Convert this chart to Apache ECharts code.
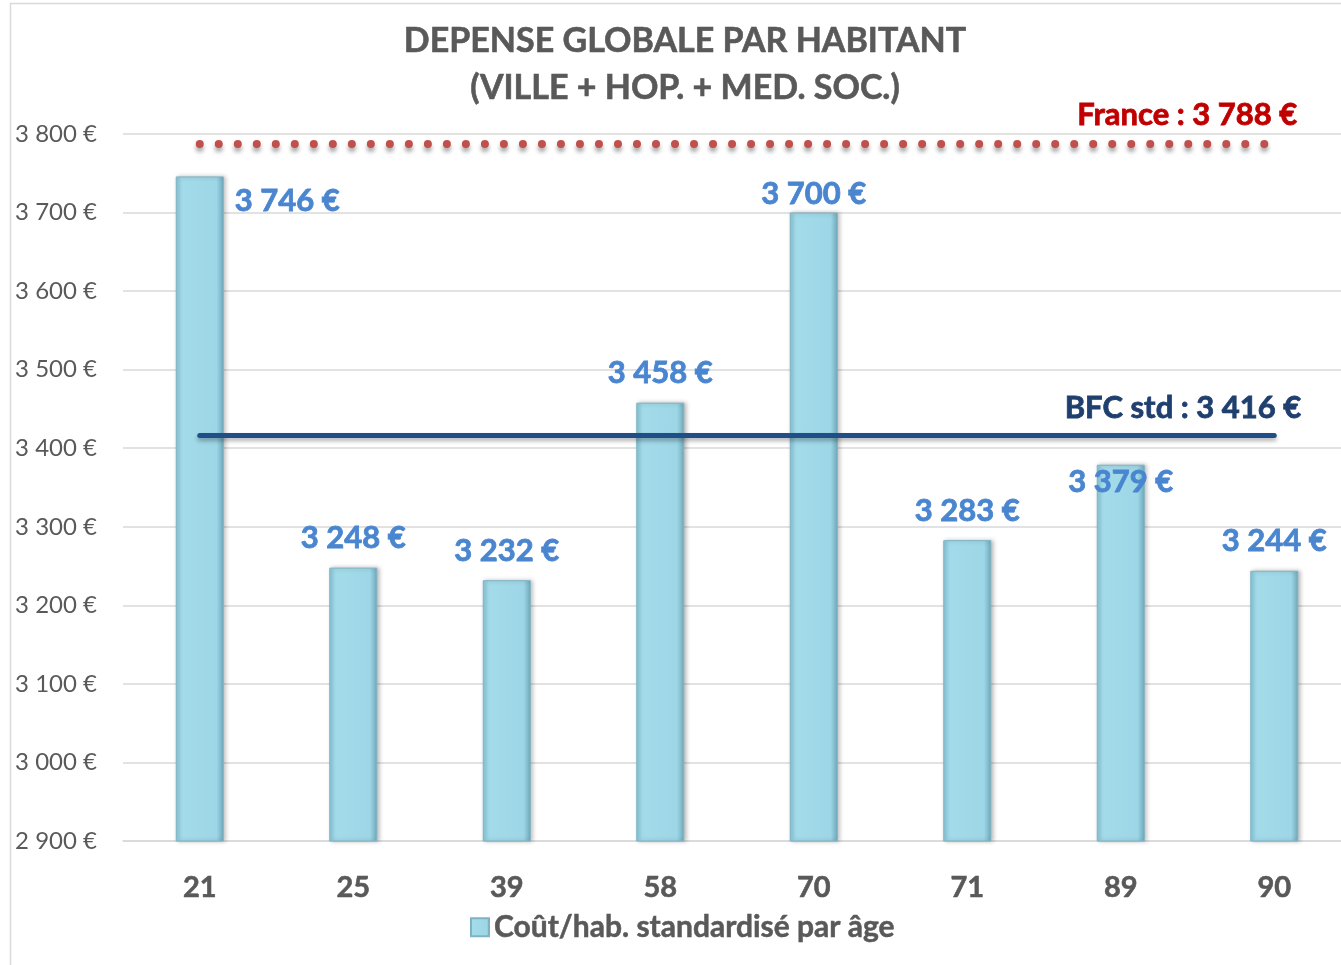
<!DOCTYPE html>
<html>
<head>
<meta charset="utf-8">
<title>Dépense globale par habitant</title>
<script src="https://cdn.jsdelivr.net/npm/echarts@6/dist/echarts.min.js"></script>
<style>
  html, body { margin: 0; padding: 0; background: #fff; overflow: hidden; }
  /* le tracé déborde à droite comme dans l'original */
  #chart { width: 1352px; height: 965px; }
</style>
</head>
<body>
<div id="chart"></div>
<script>
// données
const departements = ['21', '25', '39', '58', '70', '71', '89', '90'];
const coutParHab = [3746, 3248, 3232, 3458, 3700, 3283, 3379, 3244];
const franceRef = 3788;
const bfcRef = 3416;
const yTicks = { min: 2900, max: 3800, step: 100 };
const serieNom = 'Coût/hab. standardisé par âge';

const FONT = 'Lato, "Open Sans", sans-serif';

// format "3 800 €"
function euro(v) {
    const k = Math.floor(v / 1000);
    const r = String(Math.round(v % 1000)).padStart(3, '0');
    return (k > 0 ? k + ' ' + r : String(v)) + ' €';
}

// placement des étiquettes de valeur (décalages propres au visuel d'origine)
function labelFor(i) {
    if (i === 0) return { position: [59, 9] };
    if (i === 6) return { position: 'top', offset: [0, 38] };
    if (i === 4) return { position: 'top', offset: [0, 2] };
    return { position: 'top', offset: [0, -9] };
}

const barGradient = new echarts.graphic.LinearGradient(0, 0, 1, 0, [
    { offset: 0, color: '#86c6d8' },
    { offset: 0.12, color: '#a3dbea' },
    { offset: 0.85, color: '#9dd6e6' },
    { offset: 1, color: '#6ea9bb' }
]);

const chart = echarts.init(document.getElementById('chart'));

chart.setOption({
    animation: false,
    backgroundColor: '#fff',
    title: {
        text: 'DEPENSE GLOBALE PAR HABITANT\n(VILLE + HOP. + MED. SOC.)',
        left: 680,
        top: 13,
        textAlign: 'center',
        textStyle: {
            fontFamily: FONT, fontSize: 34, fontWeight: 'bold',
            color: '#595959', lineHeight: 47,
            textBorderColor: '#595959', textBorderWidth: 0.6
        }
    },
    legend: {
        data: [serieNom],
        left: 465,
        top: 907,
        icon: 'rect',
        itemWidth: 18,
        itemHeight: 18,
        itemGap: 8,
        textStyle: {
            fontFamily: FONT, fontSize: 30, fontWeight: 'bold', color: '#595959',
            textBorderColor: '#595959', textBorderWidth: 0.5
        }
    },
    grid: { left: 123, top: 134, width: 1228, bottom: 124, containLabel: false },
    xAxis: {
        type: 'category',
        data: departements,
        axisLine: { lineStyle: { color: '#d9d9d9', width: 1.5 } },
        axisTick: { show: false },
        axisLabel: {
            margin: 32, fontFamily: FONT, fontSize: 29, fontWeight: 'bold', color: '#595959',
            textBorderColor: '#595959', textBorderWidth: 0.6
        }
    },
    yAxis: {
        type: 'value',
        min: yTicks.min,
        max: yTicks.max,
        interval: yTicks.step,
        axisLine: { show: false },
        axisTick: { show: false },
        axisLabel: {
            margin: 26, formatter: euro,
            fontFamily: FONT, fontSize: 24, color: '#595959'
        },
        splitLine: { lineStyle: { color: '#d9d9d9', width: 1.5 } }
    },
    series: [{
        name: serieNom,
        type: 'bar',
        barWidth: 48,
        itemStyle: {
            color: barGradient,
            borderColor: '#7fb3c4',
            borderWidth: 1,
            shadowColor: 'rgba(0,0,0,0.25)',
            shadowBlur: 4,
            shadowOffsetX: 2
        },
        data: coutParHab.map((v, i) => ({
            value: v,
            label: Object.assign({
                show: true,
                formatter: p => euro(p.value),
                fontFamily: FONT, fontSize: 31, fontWeight: 'bold', color: '#4a86d0',
                textBorderColor: '#4a86d0', textBorderWidth: 0.8
            }, labelFor(i))
        })),
        markLine: {
            silent: true,
            symbol: 'none',
            data: [
                [
                    { coord: [departements[0], franceRef], lineStyle: {
                        color: '#c0504d', width: 8, type: [0.01, 19], cap: 'round',
                        shadowColor: 'rgba(0,0,0,0.35)', shadowBlur: 4, shadowOffsetY: 4 },
                      label: {
                        show: true, position: 'insideEndTop', distance: 13, offset: [36, 0],
                        formatter: 'France : ' + euro(franceRef),
                        fontFamily: FONT, fontSize: 31, fontWeight: 'bold', color: '#c00000',
                        textBorderColor: '#c00000', textBorderWidth: 0.8 } },
                    { coord: [departements[departements.length - 1], franceRef] }
                ],
                [
                    { coord: [departements[0], bfcRef], lineStyle: {
                        color: '#1f4e89', width: 5, type: 'solid', cap: 'round',
                        shadowColor: 'rgba(0,0,0,0.3)', shadowBlur: 4, shadowOffsetY: 3 },
                      label: {
                        show: true, position: 'insideEndTop', distance: 12, offset: [39, 0],
                        formatter: 'BFC std : ' + euro(bfcRef),
                        fontFamily: FONT, fontSize: 31, fontWeight: 'bold', color: '#1f3f6f',
                        textBorderColor: '#1f3f6f', textBorderWidth: 0.8 } },
                    { coord: [departements[departements.length - 1], bfcRef] }
                ]
            ]
        }
    }],
    graphic: [
        { type: 'line', shape: { x1: 10.5, y1: 3, x2: 10.5, y2: 965 }, style: { stroke: '#d9d9d9', lineWidth: 1.5 } },
        { type: 'line', shape: { x1: 10, y1: 3.5, x2: 1352, y2: 3.5 }, style: { stroke: '#d9d9d9', lineWidth: 1.5 } }
    ]
});
</script>
</body>
</html>
